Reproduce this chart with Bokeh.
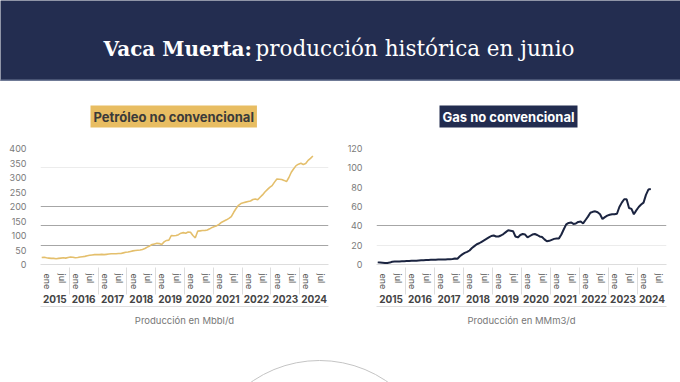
from bokeh.plotting import figure
from bokeh.models import (FactorRange, ColumnDataSource, Range1d, CategoricalAxis,
                          FixedTicker, Grid, Label, Span)
from bokeh.layouts import column, row
from bokeh.embed import file_html
from bokeh.resources import INLINE

# ---------------- data ----------------
years = [str(y) for y in range(2015, 2025)]
halves = ["ene", "jul"]

# Petróleo no convencional (Mbbl/d), monthly Jan 2015 - Jun 2024
oil = [24, 25, 23, 22, 21, 21, 20, 21, 22, 23, 22, 24,
       26, 25, 23, 24, 26, 27, 28, 30, 32, 33, 34, 34,
       34, 35, 34, 35, 36, 37, 37, 37, 38, 38, 40, 42,
       43, 45, 47, 48, 49, 50, 52, 55, 60, 64, 69, 71,
       73, 72, 69, 78, 83, 84, 100, 99, 100, 103, 108, 110,
       108, 112, 111, 100, 92, 115, 116, 117, 117, 119, 123, 128,
       131, 134, 139, 146, 150, 154, 159, 165, 180, 193, 204, 210,
       213, 215, 217, 219, 224, 226, 223, 232, 240, 250, 258, 266,
       272, 284, 295, 294, 293, 290, 286, 300, 318, 330, 341, 346,
       349, 345, 348, 359, 366, 374]

# Gas no convencional (MMm3/d), monthly Jan 2015 - Jun 2024
gas = [2.2, 2.0, 1.8, 1.6, 1.6, 2.0, 2.9, 3.0, 3.1, 3.2, 3.3, 3.4,
       3.6, 3.7, 3.8, 3.9, 4.0, 4.2, 4.4, 4.5, 4.6, 4.7, 4.8, 4.9,
       5.0, 5.1, 5.2, 5.3, 5.3, 5.4, 5.5, 5.6, 6.2, 6.0, 8.5, 10.5,
       12.0, 13.0, 14.5, 17.0, 19.0, 21.0, 22.0, 23.5, 25.0, 26.5, 28.0, 29.5,
       30.0, 29.0, 29.0, 30.0, 31.5, 33.5, 35.5, 35.0, 34.5, 29.0, 28.0, 30.5,
       31.5, 31.0, 28.0, 29.5, 31.0, 31.5, 30.5, 29.0, 28.5, 26.0, 24.0, 24.5,
       25.5, 26.5, 27.0, 27.0, 31.0, 36.5, 41.5, 43.0, 43.5, 42.0, 42.5, 44.0,
       44.5, 42.5, 46.0, 49.5, 53.5, 54.5, 55.0, 54.0, 52.0, 47.0, 49.0, 50.5,
       51.5, 52.0, 52.0, 52.5, 59.5, 64.0, 67.5, 67.5, 58.5, 57.5, 52.0, 56.0,
       59.5, 62.0, 64.0, 72.0, 77.5, 78.0]

oil_ticks = [0, 50, 100, 150, 200, 250, 300, 350, 400]
gas_ticks = [0, 20, 40, 60, 80, 100, 120]
oil_grid_dark = [400 / 6, 800 / 6, 200]
oil_grid_light = [2000 / 6]
gas_grid_dark = [40]
gas_grid_light = [20, 120]

TITLE = ["Vaca Muerta:", "producción histórica en junio"]
FONT = "Inter"

factors = [(y, h) for y in years for h in halves]


def month_coords(n):
    xs = []
    for i in range(n):
        yr = years[i // 12]
        m = i % 12
        h = halves[m // 6]
        off = ((m % 6) + 0.5) / 6 - 0.5
        xs.append((yr, h, off))
    return xs


def make_chart(vals, ticks, ymax, dark, light, color, lw, title, tbg, tcol,
               xlabel, ml, mr, toff):
    p = figure(width=340, height=254,
               x_range=FactorRange(factors=factors, group_padding=0.0,
                                   factor_padding=0.0),
               y_range=Range1d(0, ymax),
               output_backend="svg", toolbar_location=None,
               min_border_left=ml, min_border_right=mr,
               min_border_top=67, min_border_bottom=71)
    p.outline_line_color = None
    p.xgrid.visible = False
    p.ygrid.visible = False
    for vals_g, c in ((dark, "#a6a6a6"), (light, "#ececec")):
        g = Grid(dimension=1, ticker=FixedTicker(ticks=vals_g),
                 grid_line_color=c, grid_line_width=1.2)
        p.add_layout(g, "center")

    src = ColumnDataSource(dict(x=month_coords(len(vals)), y=vals))
    p.line(x="x", y="y", source=src, line_color=color, line_width=lw)

    ya = p.yaxis[0]
    ya.ticker = FixedTicker(ticks=ticks)
    ya.axis_line_color = None
    ya.major_tick_line_color = None
    ya.minor_tick_line_color = None
    ya.major_label_text_font = FONT
    ya.major_label_text_font_size = "9px"
    ya.major_label_text_color = "#7a7a7a"
    ya.major_label_standoff = 8

    xa = p.xaxis[0]
    xa.major_label_orientation = "vertical"
    xa.major_tick_line_color = None
    xa.axis_line_color = "#dddddd"
    xa.major_label_text_font = FONT
    xa.major_label_text_font_size = "9px"
    xa.major_label_text_color = "#555555"
    xa.major_label_standoff = 3
    xa.group_text_font = FONT
    xa.group_text_font_size = "10px"
    xa.group_text_color = "#444444"
    xa.group_label_orientation = "horizontal"
    xa.separator_line_color = "#dddddd"
    xa.separator_line_width = 1

    # second (label-only) axis under the category axis: draws the bottom rule
    p.extra_x_ranges = {"dummy": FactorRange(factors=[" "])}
    ax2 = CategoricalAxis(x_range_name="dummy",
                          axis_label=xlabel, axis_line_color="#dddddd",
                          major_tick_line_color=None, minor_tick_line_color=None,
                          major_label_text_font_size="0px",
                          major_label_standoff=0,
                          axis_label_text_font=FONT,
                          axis_label_text_font_size="9.5px",
                          axis_label_text_color="#777777",
                          axis_label_text_font_style="normal",
                          axis_label_standoff=2)
    p.add_layout(ax2, "below")

    p.title.text = title
    p.title.align = "left"
    p.title.offset = toff
    p.title.text_font = FONT
    p.title.text_font_size = "13px"
    p.title.text_font_style = "bold"
    p.title.text_color = tcol
    p.title.background_fill_color = tbg
    p.title.padding = 3
    p.title.standoff = 42
    return p


left = make_chart(oil, oil_ticks, 400, oil_grid_dark, oil_grid_light,
                  "#e4bf6c", 1.6, "Petróleo no convencional", "#e8bd62",
                  "#3a3a3a", "Producción en Mbbl/d", 40, 12, 50)
right = make_chart(gas, gas_ticks, 120, gas_grid_dark, gas_grid_light,
                   "#1b2440", 2.0, "Gas no convencional", "#222c4f",
                   "#ffffff", "Producción en MMm3/d", 36, 14, 63)

# banner
NAVY = "#232d50"
b = figure(width=680, height=81, x_range=Range1d(0, 680), y_range=Range1d(0, 81),
           output_backend="svg", toolbar_location=None, min_border=0,
           x_axis_location=None, y_axis_location=None)
b.grid.visible = False
b.outline_line_color = None
b.background_fill_color = NAVY
b.border_fill_color = NAVY
b.add_layout(Span(location=1, dimension="width", line_color="#6f7a96",
                  line_width=2))
b.add_layout(Label(x=103, y=32.7, text=TITLE[0], text_font="DejaVu Serif",
                   text_font_style="bold", text_font_size="20px",
                   text_color="#ffffff", text_baseline="alphabetic"))
b.add_layout(Label(x=255, y=32.7, text=TITLE[1], text_font="DejaVu Serif",
                   text_font_size="21.5px", text_color="#ffffff",
                   text_baseline="alphabetic"))

# bottom decorative arc
d = figure(width=680, height=47, x_range=Range1d(0, 680), y_range=Range1d(0, 47),
           output_backend="svg", toolbar_location=None, min_border=0,
           x_axis_location=None, y_axis_location=None)
d.grid.visible = False
d.outline_line_color = None
d.circle(x=[319], y=[-97], radius=119, fill_color=None, line_color="#c4c4c4",
         line_width=1)

layout = column(b, row(left, right), d)
open("out.html", "w").write(file_html(layout, INLINE))
